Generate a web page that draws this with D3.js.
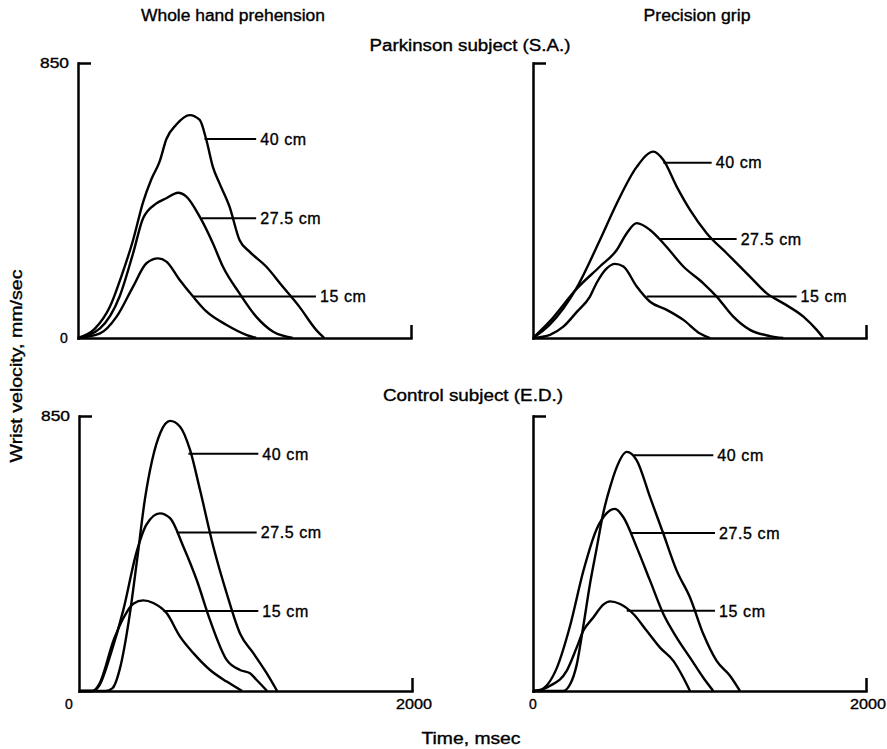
<!DOCTYPE html>
<html>
<head>
<meta charset="utf-8">
<script src="https://cdn.jsdelivr.net/npm/d3@7"></script>
<style>
  html, body { margin: 0; padding: 0; background: #fff; }
  svg { display: block; }
  text { font-family: "Liberation Sans", Arial, sans-serif; fill: #000; stroke: #000; stroke-width: 0.35px; }
</style>
</head>
<body>
<svg id="chart" width="887" height="749"></svg>
<script>
// ---------------- DATA ----------------
const seriesNames = ["40 cm", "27.5 cm", "15 cm"];
const xTickLabels = ["0", "2000"];
const yTickLabels = ["0", "850"];
const columnTitles = ["Whole hand prehension", "Precision grip"];
const rowTitles = ["Parkinson subject (S.A.)", "Control subject (E.D.)"];

// [time ms, wrist velocity mm/sec]
// Parkinson, whole hand
const pkWhole40  = [[0,0],[100,28],[192,97],[260,190],[331,303],[391,420],[440,490],[490,545],[531,615],[591,660],[671,689],[731,674],[771,612],[810,529],[850,478],[910,406],[970,303],[1030,267],[1130,221],[1229,159],[1329,97],[1429,26],[1479,0]];
const pkWhole275 = [[0,0],[132,30],[251,130],[331,262],[391,370],[471,416],[531,432],[601,449],[651,437],[731,375],[810,293],[870,221],[970,138],[1070,66],[1170,20],[1290,0]];
const pkWhole15  = [[0,0],[132,14],[232,66],[331,159],[411,231],[481,246],[531,236],[611,179],[691,128],[771,82],[890,41],[1010,10],[1070,0]];
// Parkinson, precision grip
const pkPrec40   = [[0,0],[102,42],[262,155],[402,303],[503,416],[623,529],[723,576],[783,550],[863,468],[943,396],[1043,324],[1163,262],[1303,190],[1404,138],[1504,107],[1624,66],[1704,25],[1744,0]];
const pkPrec275  = [[0,0],[102,52],[262,152],[402,221],[503,272],[563,324],[623,355],[703,334],[783,293],[903,221],[1023,169],[1103,128],[1203,66],[1303,25],[1423,6],[1503,0]];
const pkPrec15   = [[0,0],[102,10],[182,35],[262,80],[342,128],[382,170],[443,215],[492,229],[543,221],[623,159],[703,112],[803,87],[903,56],[1003,14],[1063,0]];
// Control, whole hand
const ctWhole40  = [[0,0],[160,0],[200,8],[246,70],[300,220],[350,410],[395,590],[440,715],[490,800],[547,835],[607,817],[667,745],[727,621],[807,446],[887,302],[967,178],[1047,117],[1127,55],[1190,0]];
const ctWhole275 = [[0,0],[80,0],[120,15],[194,120],[266,250],[346,430],[406,515],[486,549],[547,534],[627,446],[707,343],[787,219],[887,96],[967,65],[1027,55],[1067,34],[1130,0]];
const ctWhole15  = [[0,0],[80,0],[120,20],[210,160],[266,225],[326,270],[386,280],[446,272],[527,240],[607,168],[687,117],[787,65],[887,29],[980,0]];
// Control, precision grip
const ctPrec40   = [[0,0],[180,0],[222,20],[262,80],[302,200],[342,330],[382,440],[422,550],[463,630],[503,692],[563,739],[623,713],[703,599],[783,486],[863,372],[943,289],[1023,176],[1103,93],[1183,47],[1243,0]];
const ctPrec275  = [[0,0],[42,3],[142,70],[222,200],[302,370],[382,500],[443,550],[492,563],[543,537],[623,444],[703,341],[783,238],[863,165],[943,103],[1023,41],[1083,0]];
const ctPrec15   = [[0,0],[40,2],[102,16],[202,62],[262,134],[302,186],[362,227],[422,267],[462,277],[523,269],[603,238],[683,186],[763,134],[843,93],[903,41],[943,0]];

// label leader lines: [velocity, time start, time end] per series (40, 27.5, 15)
const pkWholeLeaders = [[615,760,1070],[370,742,1070],[128,691,1429]];
const pkPrecLeaders  = [[542,783,1073],[306,763,1223],[128,683,1583]];
const ctWholeLeaders = [[733,657,1077],[490,587,1067],[247,506,1077]];
const ctPrecLeaders  = [[729,603,1083],[488,583,1093],[248,563,1093]];

// ---------------- LAYOUT ----------------
const W = 333, H = 275;
const panels = [
  { left: 78,  top: 63,  series: [pkWhole40, pkWhole275, pkWhole15], leaders: pkWholeLeaders, yLabels: true,  zeroLeft: true,  xLabels: false },
  { left: 533, top: 63,  series: [pkPrec40, pkPrec275, pkPrec15],    leaders: pkPrecLeaders,  yLabels: false, zeroLeft: false, xLabels: false },
  { left: 79,  top: 416, series: [ctWhole40, ctWhole275, ctWhole15], leaders: ctWholeLeaders, yLabels: true,  zeroLeft: false, xLabels: true, zeroDx: -10 },
  { left: 533, top: 416, series: [ctPrec40, ctPrec275, ctPrec15],    leaders: ctPrecLeaders,  yLabels: false, zeroLeft: false, xLabels: true, zeroDx: 0 }
];

const svg = d3.select("#chart");

panels.forEach(p => {
  const x = d3.scaleLinear().domain([0, 2000]).range([p.left, p.left + W]);
  const y = d3.scaleLinear().domain([0, 850]).range([p.top + H, p.top]);
  const g = svg.append("g");

  const ya = g.append("g").attr("transform", `translate(${x(0)},0)`)
    .call(d3.axisLeft(y).tickValues([850]).tickSize(-13).tickSizeOuter(0).tickFormat(""));
  const xa = g.append("g").attr("transform", `translate(0,${y(0)})`)
    .call(d3.axisBottom(x).tickValues([2000]).tickSize(-13).tickSizeOuter(0).tickFormat(""));
  [ya, xa].forEach(a => {
    a.selectAll("path, line").attr("stroke", "#000").attr("stroke-width", 2.5);
    a.select(".domain").attr("stroke-linecap", "square");
  });

  const line = d3.line().x(d => x(d[0])).y(d => y(d[1])).curve(d3.curveMonotoneX);
  p.series.forEach(s => {
    g.append("path").datum(s).attr("d", line)
      .attr("fill", "none").attr("stroke", "#000").attr("stroke-width", 2.4)
      .attr("stroke-linejoin", "round");
  });

  p.leaders.forEach((l, i) => {
    g.append("line")
      .attr("x1", x(l[1])).attr("x2", x(l[2]))
      .attr("y1", y(l[0])).attr("y2", y(l[0]))
      .attr("stroke", "#000").attr("stroke-width", 2);
    g.append("text")
      .attr("x", x(l[2]) + 4).attr("y", y(l[0]))
      .attr("dy", "0.36em")
      .attr("font-size", 16)
      .attr("letter-spacing", "0.6px")
      .text(seriesNames[i]);
  });

  if (p.yLabels) {
    g.append("text").attr("x", x(0) - 9).attr("y", y(850)).attr("dy", "0.36em")
      .attr("text-anchor", "end").attr("font-size", 14)
      .attr("textLength", 29).attr("lengthAdjust", "spacingAndGlyphs").text(yTickLabels[1]);
  }
  if (p.zeroLeft) {
    g.append("text").attr("x", x(0) - 14).attr("y", y(0)).attr("dy", "0.36em")
      .attr("text-anchor", "middle").attr("font-size", 14).text(yTickLabels[0]);
  }
  if (p.xLabels) {
    g.append("text").attr("x", x(0) + p.zeroDx).attr("y", y(0) + 13).attr("dy", "0.36em")
      .attr("text-anchor", "middle").attr("font-size", 14).text(xTickLabels[0]);
    g.append("text").attr("x", x(2000) + 2).attr("y", y(0) + 13).attr("dy", "0.36em")
      .attr("text-anchor", "middle").attr("font-size", 14)
      .attr("textLength", 36).attr("lengthAdjust", "spacingAndGlyphs").text(xTickLabels[1]);
  }
});

function title(txt, cx, cy, len, rot) {
  const t = svg.append("text")
    .attr("x", cx).attr("y", cy)
    .attr("text-anchor", "middle")
    .attr("font-size", 16)
    .attr("textLength", len).attr("lengthAdjust", "spacingAndGlyphs")
    .text(txt);
  if (rot) t.attr("transform", `rotate(-90,${cx},${cy})`);
  return t;
}
title(columnTitles[0], 233, 21, 184);
title(columnTitles[1], 697, 21, 107);
title(rowTitles[0], 470, 51, 201);
title(rowTitles[1], 473, 401, 180);
title("Time, msec", 471, 744, 99);
title("Wrist velocity, mm/sec", 22, 366, 193, true);
</script>
</body>
</html>
